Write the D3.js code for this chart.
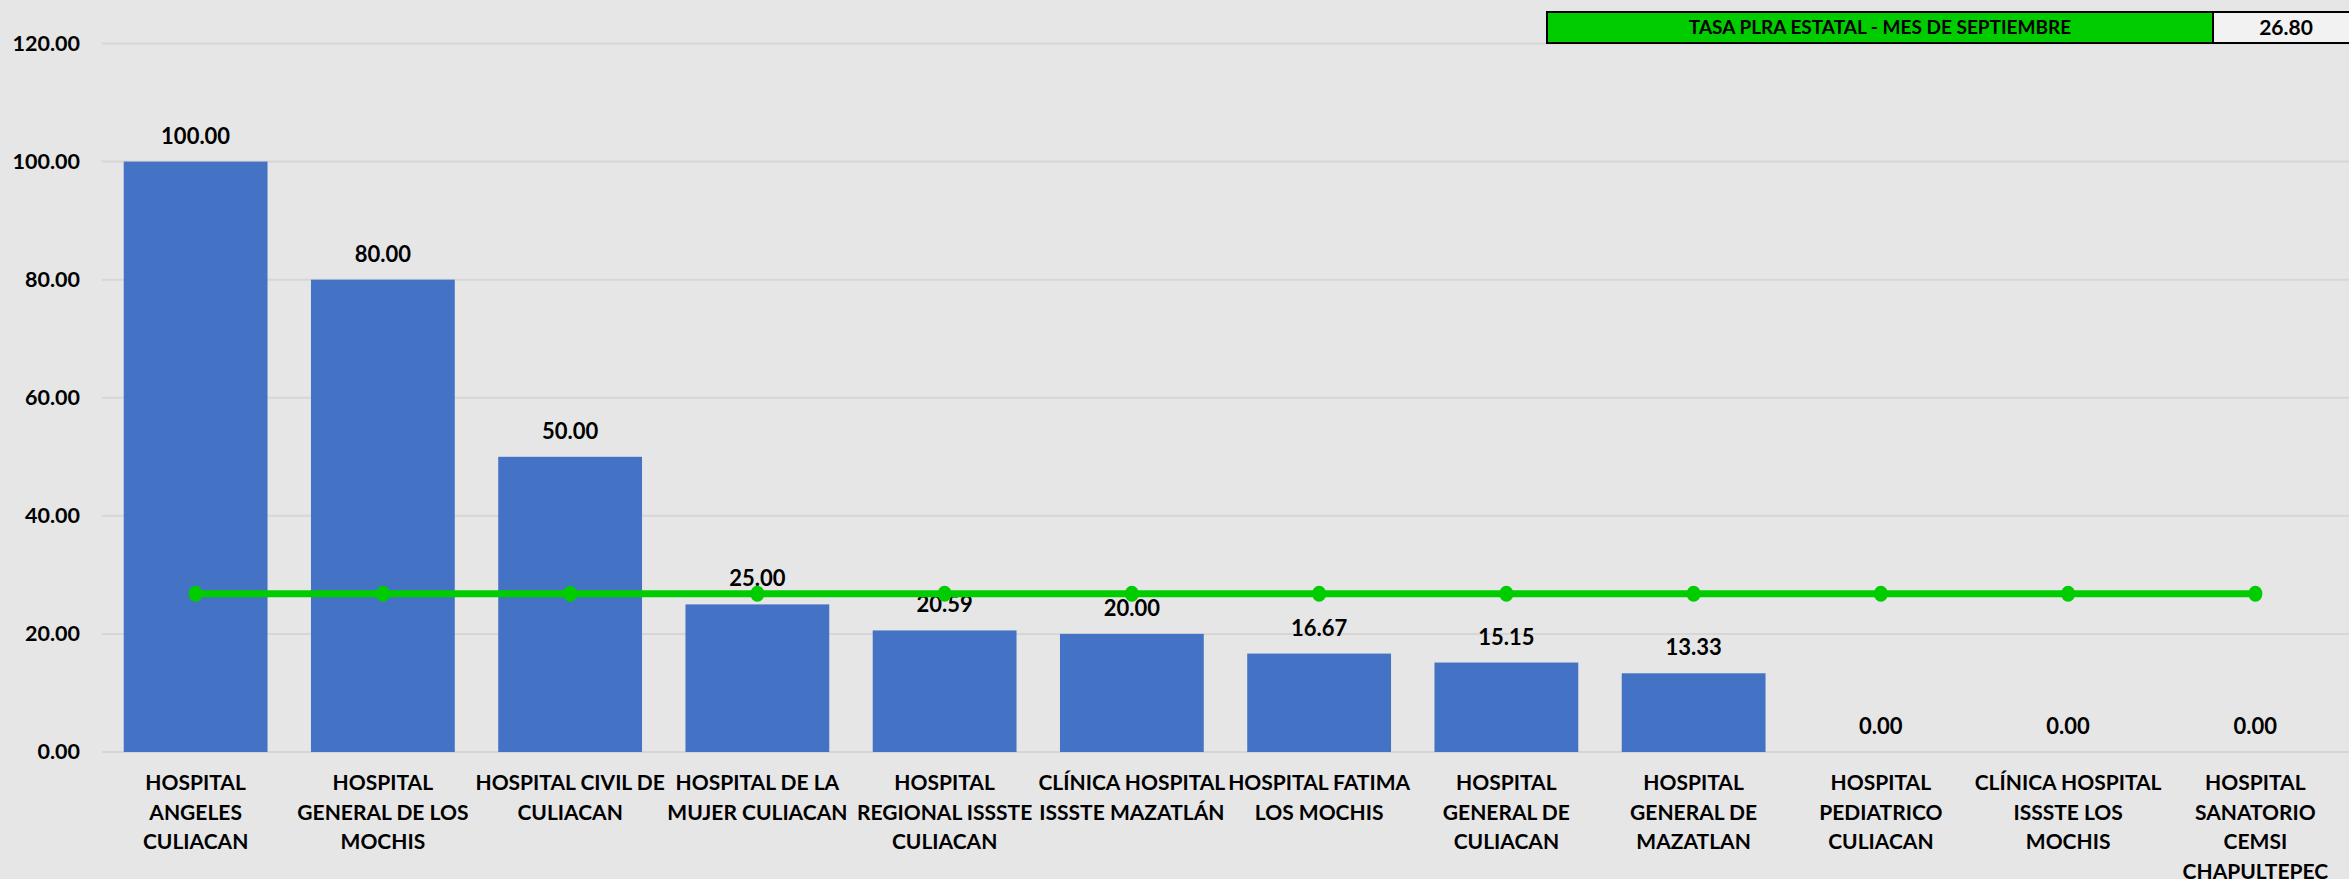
<!DOCTYPE html>
<html>
<head>
<meta charset="utf-8">
<script src="https://cdn.jsdelivr.net/npm/d3@7"></script>
<style>
  html, body { margin: 0; padding: 0; background: #e6e6e6; }
  svg { display: block; font-family: Lato, "Liberation Sans", sans-serif; font-weight: bold; }
</style>
</head>
<body>
<svg id="chart"></svg>
<script>
// Data
const categories = [
  'HOSPITAL\nANGELES\nCULIACAN',
  'HOSPITAL\nGENERAL DE LOS\nMOCHIS',
  'HOSPITAL CIVIL DE\nCULIACAN',
  'HOSPITAL DE LA\nMUJER CULIACAN',
  'HOSPITAL\nREGIONAL ISSSTE\nCULIACAN',
  'CLÍNICA HOSPITAL\nISSSTE MAZATLÁN',
  'HOSPITAL FATIMA\nLOS MOCHIS',
  'HOSPITAL\nGENERAL DE\nCULIACAN',
  'HOSPITAL\nGENERAL DE\nMAZATLAN',
  'HOSPITAL\nPEDIATRICO\nCULIACAN',
  'CLÍNICA HOSPITAL\nISSSTE LOS\nMOCHIS',
  'HOSPITAL\nSANATORIO\nCEMSI\nCHAPULTEPEC'
];
const rates = [100.00, 80.00, 50.00, 25.00, 20.59, 20.00, 16.67, 15.15, 13.33, 0.00, 0.00, 0.00];
const stateRate = [26.80, 26.80, 26.80, 26.80, 26.80, 26.80, 26.80, 26.80, 26.80, 26.80, 26.80, 26.80];
const yTicks = [0, 20, 40, 60, 80, 100, 120];
const legendLabel = 'TASA PLRA ESTATAL - MES DE SEPTIEMBRE';
const legendValue = 26.80;

const width = 2349;
const height = 879;
const svg = d3.select('#chart').attr('width', width).attr('height', height);

const plotLeft = 102;
const plotRight = 2349;
const plotTop = 43.5;
const plotBottom = 752;

const x = d3.scaleBand().domain(categories).range([plotLeft, plotRight]).paddingInner(0.232).paddingOuter(0.116);
const y = d3.scaleLinear().domain([0, 120]).range([plotBottom, plotTop]);

// Background
svg.append('rect').attr('width', width).attr('height', height).attr('fill', '#e6e6e6');

// Gridlines
svg.append('g')
  .selectAll('line')
  .data(yTicks)
  .join('line')
  .attr('x1', plotLeft)
  .attr('x2', plotRight)
  .attr('y1', d => y(d))
  .attr('y2', d => y(d))
  .attr('stroke', '#d6d6d6')
  .attr('stroke-width', 2);

// Y axis labels
const axis = d3.axisLeft(y).tickValues(yTicks).tickSize(0).tickPadding(22).tickFormat(d3.format('.2f'));
const axisG = svg.append('g').attr('transform', `translate(${plotLeft}, 0)`).call(axis);
axisG.select('.domain').remove();
axisG.selectAll('text')
  .attr('font-size', 21.5)
  .attr('font-family', 'Lato, "Liberation Sans", sans-serif')
  .attr('font-weight', 'bold')
  .attr('fill', '#000');

// Bars
svg.append('g')
  .selectAll('rect')
  .data(rates)
  .join('rect')
  .attr('x', (d, i) => x(categories[i]))
  .attr('y', d => y(d))
  .attr('width', x.bandwidth())
  .attr('height', d => y(0) - y(d))
  .attr('fill', '#4472c4');

// Bar value labels
svg.append('g')
  .selectAll('text')
  .data(rates)
  .join('text')
  .attr('x', (d, i) => x(categories[i]) + x.bandwidth() / 2)
  .attr('y', d => y(d) - 18)
  .attr('text-anchor', 'middle')
  .attr('font-size', 22)
  .attr('fill', '#000')
  .text(d => d3.format('.2f')(d));

// State rate line
const cx = i => x(categories[i]) + x.bandwidth() / 2;
svg.append('path')
  .datum(stateRate)
  .attr('d', d3.line().x((d, i) => cx(i)).y(d => y(d)))
  .attr('fill', 'none')
  .attr('stroke', '#00cc00')
  .attr('stroke-width', 7);
svg.append('g')
  .selectAll('ellipse')
  .data(stateRate)
  .join('ellipse')
  .attr('cx', (d, i) => cx(i))
  .attr('cy', d => y(d))
  .attr('rx', 7)
  .attr('ry', 8)
  .attr('fill', '#00cc00');

// Category labels
const catG = svg.append('g');
categories.forEach((c, i) => {
  const t = catG.append('text')
    .attr('x', cx(i))
    .attr('y', 790)
    .attr('text-anchor', 'middle')
    .attr('font-size', 21)
    .attr('fill', '#000');
  c.split('\n').forEach((line, j) => {
    t.append('tspan').attr('x', cx(i)).attr('dy', j === 0 ? 0 : 29.5).text(line);
  });
});

// Legend box (top right)
const boxY = 12, boxH = 31;
svg.append('rect').attr('x', 1547).attr('y', boxY).attr('width', 666).attr('height', boxH)
  .attr('fill', '#00cc00').attr('stroke', '#000').attr('stroke-width', 2);
svg.append('rect').attr('x', 2213).attr('y', boxY).attr('width', 140).attr('height', boxH)
  .attr('fill', '#f2f2f2').attr('stroke', '#000').attr('stroke-width', 2);
svg.append('text').attr('x', 1547 + 333).attr('y', boxY + 22).attr('text-anchor', 'middle')
  .attr('font-size', 19).attr('fill', '#000').text(legendLabel);
svg.append('text').attr('x', 2286).attr('y', boxY + 23).attr('text-anchor', 'middle')
  .attr('font-size', 21).attr('fill', '#000').text(d3.format('.2f')(legendValue));
</script>
</body>
</html>
